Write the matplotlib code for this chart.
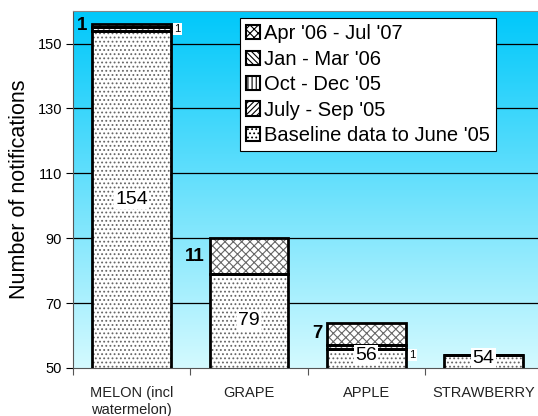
import numpy as np
import matplotlib
matplotlib.use("Agg")
from matplotlib import pyplot as plt
from matplotlib.patches import Patch
from matplotlib.colors import LinearSegmentedColormap

plt.rcParams['font.family'] = ['Liberation Sans', 'DejaVu Sans']
plt.rcParams['hatch.linewidth'] = 0.8

categories = ["MELON (incl\nwatermelon)", "GRAPE", "APPLE", "STRAWBERRY"]
series_names = ["Baseline data to June '05", "July - Sep '05", "Oct - Dec '05",
                "Jan - Mar '06", "Apr '06 - Jul '07"]
baseline = [154, 79, 56, 54]
jul_sep = [1, 0, 1, 0]
oct_dec = [0, 0, 0, 0]
jan_mar = [0, 0, 0, 0]
apr_jul = [1, 11, 7, 0]
series = [baseline, jul_sep, oct_dec, jan_mar, apr_jul]
hatches = ["....", "//////", "||||", "\\\\\\\\\\\\", "xxxx"]

fig = plt.figure(figsize=(5.38, 4.16), dpi=100)
ax = fig.add_axes([0.1357, 0.1154, 0.872, 0.858])

ymin, ymax = 50, 160
ax.set_xlim(0, 4)
ax.set_ylim(ymin, ymax)

# gradient background
cmap = LinearSegmentedColormap.from_list("bg", ["#d4faff", "#00c8fa"])
grad = np.linspace(0, 1, 256).reshape(-1, 1)
ax.imshow(grad, cmap=cmap, origin="lower", aspect="auto",
          extent=[0, 4, ymin, ymax], zorder=0)

for y in range(70, 160, 20):
    ax.axhline(y, color="black", lw=0.9, zorder=1)

x = np.arange(len(categories)) + 0.5
w = 0.67
bottom = np.zeros(len(categories))
for vals, h in zip(series, hatches):
    vals = np.array(vals, dtype=float)
    ax.bar(x, vals, w, bottom=bottom, color="white", edgecolor="#666666",
           hatch=h, linewidth=0, zorder=2)
    ax.bar(x, vals, w, bottom=bottom, fill=False, edgecolor="black",
           linewidth=2, zorder=3)
    bottom += vals

# labels
for xi, b in zip(x, baseline):
    ax.text(xi, (ymin + b) / 2 + (1 if b < 60 else 0), str(b), ha="center",
            va="center", fontsize=14, zorder=5,
            bbox=dict(facecolor="white", edgecolor="none", pad=1))
for xi, b, v in zip(x, baseline, jul_sep):
    if v:
        ax.text(xi + w / 2 + 0.03, b + v / 2 - (0.0 if b > 100 else 2.5), str(v),
                ha="left", va="center", fontsize=8, zorder=5,
                bbox=dict(facecolor="white", edgecolor="none", pad=1))
top_base = np.array(baseline) + np.array(jul_sep) + np.array(oct_dec) + np.array(jan_mar)
for xi, b, v in zip(x, top_base, apr_jul):
    if v:
        ax.text(xi - w / 2 - 0.04, b + v / 2, str(v), ha="right", va="center",
                fontsize=13.5, fontweight="bold", zorder=5)

ax.set_yticks(range(50, 151, 20))
ax.tick_params(axis="y", labelsize=10.5, length=5, direction="out", pad=3)
ax.set_xticks(range(0, 5), minor=False)
ax.set_xticklabels([])
ax.set_xticks(x, minor=True)
ax.set_xticklabels(categories, minor=True, fontsize=10.5, color="#222222",
                   linespacing=1.25)
ax.tick_params(axis="x", which="minor", length=0, pad=13)
ax.tick_params(axis="x", which="major", length=5, color="#555555")
ax.set_ylabel("Number of notifications", fontsize=15.5, labelpad=5)

for s in ["top", "right"]:
    ax.spines[s].set_color("#888888")
ax.spines["left"].set_color("#555555")
ax.spines["bottom"].set_color("#555555")

handles = [Patch(facecolor="white", edgecolor="black", hatch=h, lw=1.5)
           for h in hatches]
leg = ax.legend(handles[::-1], series_names[::-1], loc="upper left",
                bbox_to_anchor=(0.356, 0.980), fontsize=14.5, frameon=True,
                fancybox=False, edgecolor="black", framealpha=1,
                handlelength=0.7, handleheight=0.7, handletextpad=0.2,
                labelspacing=0.32, borderpad=0.3, borderaxespad=0)
leg.get_frame().set_linewidth(0.8)
leg.set_zorder(6)

fig.savefig("out.png", dpi=100)
